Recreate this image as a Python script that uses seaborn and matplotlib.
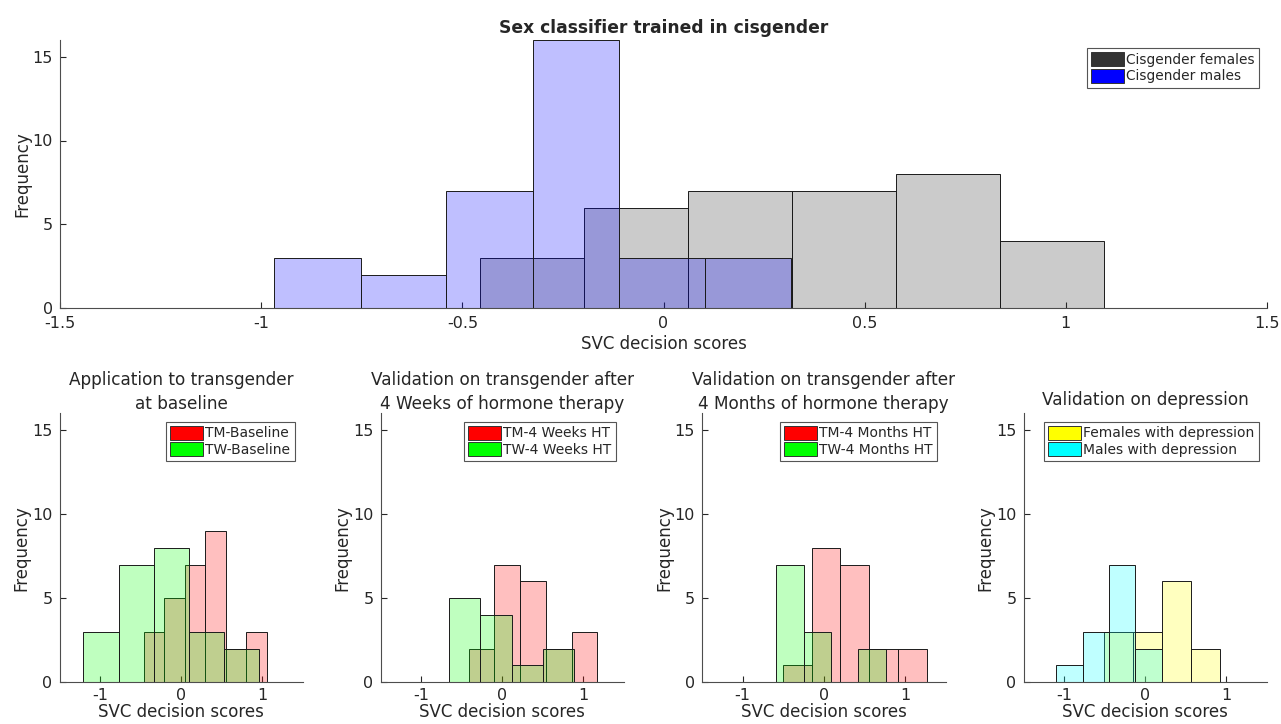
import numpy as np
import pandas as pd
import matplotlib
matplotlib.use("Agg")
import matplotlib.pyplot as plt
from matplotlib.patches import Patch
import seaborn as sns

# -------------------------------------------------------------
# DATA (bin edges + counts)
# -------------------------------------------------------------
cis_female_edges = [-0.455, -0.197, 0.061, 0.319, 0.578, 0.836, 1.095]
cis_female_counts = [3, 6, 7, 7, 8, 4]
cis_male_edges = [-0.968, -0.753, -0.540, -0.325, -0.111, 0.103, 0.317]
cis_male_counts = [3, 2, 7, 16, 3, 3]

tm_base_edges = [-0.461, -0.208, 0.045, 0.297, 0.550, 0.803, 1.056]
tm_base_counts = [3, 5, 7, 9, 2, 3]
tw_base_edges = [-1.206, -0.772, -0.338, 0.096, 0.530, 0.964]
tw_base_counts = [3, 7, 8, 3, 2]

tm_4w_edges = [-0.413, -0.096, 0.221, 0.538, 0.855, 1.172]
tm_4w_counts = [2, 7, 6, 2, 3]
tw_4w_edges = [-0.652, -0.268, 0.116, 0.500, 0.884]
tw_4w_counts = [5, 4, 1, 2]

tm_4m_edges = [-0.506, -0.150, 0.206, 0.562, 0.918, 1.274]
tm_4m_counts = [1, 8, 7, 2, 2]
tw_4m_edges = [-0.583, -0.247, 0.089, 0.425, 0.761]
tw_4m_counts = [7, 3, 0, 2]

dep_f_edges = [-0.513, -0.155, 0.203, 0.561, 0.919]
dep_f_counts = [3, 3, 6, 2]
dep_m_edges = [-1.097, -0.772, -0.447, -0.122, 0.203]
dep_m_counts = [1, 3, 7, 2]

TXT = "#262626"
AXC = "#4d4d4d"

sns.set_style("ticks")
plt.rcParams["font.family"] = ["DejaVu Sans"]
plt.rcParams.update({
    "xtick.direction": "in", "ytick.direction": "in",
    "xtick.major.size": 4, "ytick.major.size": 4,
    "xtick.color": TXT, "ytick.color": TXT,
    "xtick.labelsize": 11.5, "ytick.labelsize": 11.5,
    "axes.edgecolor": AXC, "axes.linewidth": 0.8,
    "text.color": TXT, "axes.labelcolor": TXT,
})


def hist(ax, edges, counts, color):
    e = np.asarray(edges)
    df = pd.DataFrame({"score": (e[:-1] + e[1:]) / 2, "n": counts})
    sns.histplot(data=df, x="score", weights="n", bins=list(edges), ax=ax, color=color,
                 alpha=0.25, edgecolor="#1a1a1a", linewidth=0.7)


def style(ax, xticks, xpad=4, lpad=0):
    ax.set_xlim(-1.5, 1.5)
    ax.set_ylim(0, 16)
    ax.set_xticks(xticks)
    ax.set_xticklabels([f"{t:g}" for t in xticks])
    ax.set_yticks([0, 5, 10, 15])
    ax.set_xlabel("SVC decision scores", fontsize=12, labelpad=lpad)
    ax.set_ylabel("Frequency", fontsize=12, labelpad=1)
    sns.despine(ax=ax)
    ax.tick_params(axis="x", pad=xpad, colors=TXT)
    ax.tick_params(axis="y", pad=5, colors=TXT)


def legend(ax, labels, colors, fs):
    handles = [Patch(facecolor=c, edgecolor="#333333", linewidth=0.7) for c in colors]
    leg = ax.legend(handles, labels, loc="upper right", fontsize=fs, fancybox=False,
                    edgecolor="#555555", framealpha=1, borderaxespad=0.6,
                    borderpad=0.3, handlelength=2.4, handleheight=1.15,
                    handletextpad=0.15, labelspacing=0.15)
    leg.get_frame().set_linewidth(0.8)


fig = plt.figure(figsize=(12.81, 7.24), dpi=100)

# top panel
ax0 = fig.add_axes([60 / 1281, 1 - 308 / 724, 1207 / 1281, 268 / 724])
hist(ax0, cis_female_edges, cis_female_counts, (0.2, 0.2, 0.2))
hist(ax0, cis_male_edges, cis_male_counts, (0, 0, 1))
style(ax0, [-1.5, -1, -0.5, 0, 0.5, 1, 1.5], xpad=5.5, lpad=3)
ax0.set_title("Sex classifier trained in cisgender", fontsize=12.3, fontweight="bold", pad=5)
legend(ax0, ["Cisgender females", "Cisgender males"], [(0.2, 0.2, 0.2), (0, 0, 1)], 9.9)

# bottom panels
panels = [
    ("Application to transgender\nat baseline", tm_base_edges, tm_base_counts,
     tw_base_edges, tw_base_counts, ["TM-Baseline", "TW-Baseline"], ["red", "lime"]),
    ("Validation on transgender after\n4 Weeks of hormone therapy", tm_4w_edges, tm_4w_counts,
     tw_4w_edges, tw_4w_counts, ["TM-4 Weeks HT", "TW-4 Weeks HT"], ["red", "lime"]),
    ("Validation on transgender after\n4 Months of hormone therapy", tm_4m_edges, tm_4m_counts,
     tw_4m_edges, tw_4m_counts, ["TM-4 Months HT", "TW-4 Months HT"], ["red", "lime"]),
    ("Validation on depression", dep_f_edges, dep_f_counts,
     dep_m_edges, dep_m_counts, ["Females with depression", "Males with depression"], ["yellow", "cyan"]),
]
lefts = [59.5, 380.5, 702, 1023.5]
for left, (title, e1, c1, e2, c2, labels, colors) in zip(lefts, panels):
    ax = fig.add_axes([left / 1281, 1 - 682.3 / 724, 243.5 / 1281, 269 / 724])
    hist(ax, e1, c1, colors[0])
    hist(ax, e2, c2, colors[1])
    style(ax, [-1, 0, 1])
    two_line = "\n" in title
    ax.set_title(title, fontsize=12.2, pad=2.5 if two_line else 6, linespacing=1.42)
    legend(ax, labels, colors, 10)

fig.savefig("out.png", dpi=100)
